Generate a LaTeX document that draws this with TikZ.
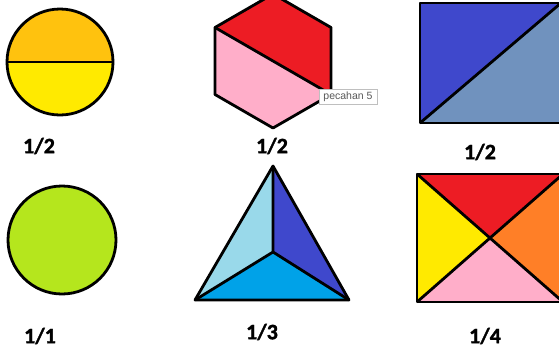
\documentclass[tikz,border=0pt]{standalone}
\usepackage{fontspec}
\setmainfont{Carlito}
\newfontfamily\fracfont{Carlito}[UprightFont={* Bold},FakeBold=1.5]
\newfontfamily\tipfont{Liberation Sans}
\definecolor{pgold}{HTML}{FFC20E}
\definecolor{pyellow}{HTML}{FFEA00}
\definecolor{pred}{HTML}{ED1C24}
\definecolor{prose}{HTML}{FFAEC9}
\definecolor{pindigo}{HTML}{3F48CC}
\definecolor{pbluegray}{HTML}{7092BE}
\definecolor{plime}{HTML}{B5E61D}
\definecolor{pturq}{HTML}{00A2E8}
\definecolor{plturq}{HTML}{99D9EA}
\definecolor{porange}{HTML}{FF7F27}

\begin{document}
\begin{tikzpicture}[
x=1pt,y=-1pt,
piece/.style={draw=black,line width=2.8pt,line join=round},
frac/.style={font=\fracfont\fontsize{22}{22}\selectfont,inner sep=0pt},
tip/.style={draw=black!25,fill=white,line width=.6pt,
  font=\tipfont\fontsize{10.5}{11}\selectfont,text=black!65,
  minimum width=58pt,minimum height=15pt,inner sep=1pt}
]
\clip (0,0) rectangle (559,349);
\fill[white] (0,0) rectangle (559,349);

% half circle
\coordinate (c1) at (60,62);
\fill[pgold] (7,62) arc[start angle=180,end angle=0,radius=53pt] -- cycle;
\fill[pyellow] (7,62) arc[start angle=180,end angle=360,radius=53pt] -- cycle;
\draw[piece] (c1) circle[radius=53pt];
\draw[piece] (7,62) -- (113,62);
\node[frac] (f1) at (39,146) {1/2};

% hexagon
\coordinate (hc) at (273,61);
\foreach \a[count=\i] in {90,30,-30,-90,-150,150}
  \path (hc) ++(\a:67pt) coordinate (h\i);
\fill[pred] (h6)--(h1)--(h2)--(h3)--cycle;
\fill[prose] (h6)--(h3)--(h4)--(h5)--cycle;
\draw[piece] (h1)--(h2)--(h3)--(h4)--(h5)--(h6)--cycle;
\draw[piece] (h6)--(h3);
\node[frac] (f2) at (272,146) {1/2};
\node[tip] (tp) at (348,97) {pecahan 5};

% rectangle in two
\coordinate (r1) at (420,3);
\coordinate (r2) at (561,3);
\coordinate (r3) at (561,123);
\coordinate (r4) at (420,123);
\fill[pindigo] (r1)--(r2)--(r4)--cycle;
\fill[pbluegray] (r2)--(r3)--(r4)--cycle;
\draw[piece] (r1)--(r2)--(r3)--(r4)--cycle;
\draw[piece] (r4)--(r2);
\node[frac] (f3) at (480,152) {1/2};

% whole circle
\coordinate (c2) at (62,240);
\draw[piece,fill=plime] (c2) circle[radius=54pt];
\node[frac] (f4) at (40,336) {1/1};

% triangle in three
\coordinate (t1) at (273,166);
\coordinate (t2) at (195,300);
\coordinate (t3) at (349,300);
\coordinate (t0) at (273,252);
\fill[plturq] (t1)--(t0)--(t2)--cycle;
\fill[pindigo] (t1)--(t3)--(t0)--cycle;
\fill[pturq] (t2)--(t0)--(t3)--cycle;
\draw[piece] (t1)--(t2)--(t3)--cycle;
\draw[piece] (t1)--(t0) (t2)--(t0)--(t3);
\node[frac] (f5) at (262,332) {1/3};

% rectangle in four
\coordinate (q1) at (417,174);
\coordinate (q2) at (563,174);
\coordinate (q3) at (563,302);
\coordinate (q4) at (417,302);
\coordinate (q0) at (490,238);
\fill[pred] (q1)--(q2)--(q0)--cycle;
\fill[porange] (q2)--(q3)--(q0)--cycle;
\fill[prose] (q3)--(q4)--(q0)--cycle;
\fill[pyellow] (q4)--(q1)--(q0)--cycle;
\draw[piece] (q1)--(q2)--(q3)--(q4)--cycle;
\draw[piece] (q1)--(q3) (q2)--(q4);
\node[frac] (f6) at (485,336) {1/4};

\end{tikzpicture}
\end{document}
